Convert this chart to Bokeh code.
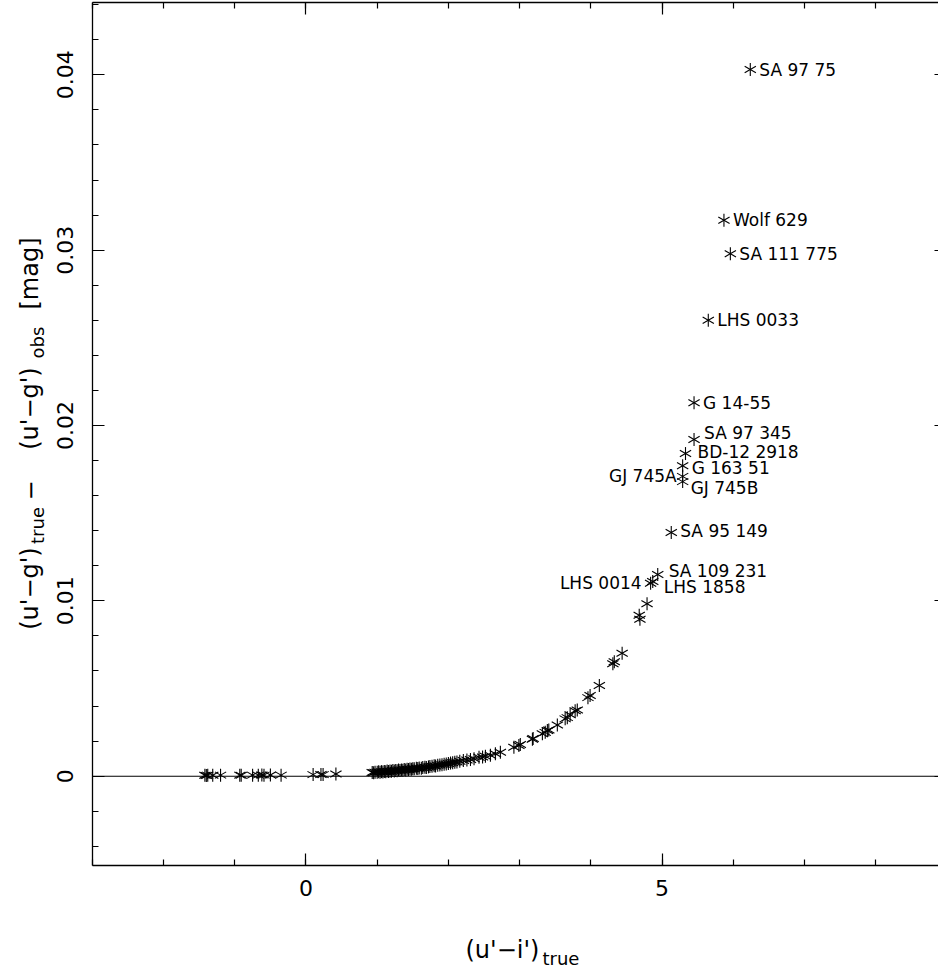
import numpy as np
from bokeh.plotting import figure
from bokeh.models import (Range1d, LinearAxis, Label, ColumnDataSource,
                          FixedTicker)
from bokeh.embed import file_html
from bokeh.resources import INLINE
from bokeh.core.properties import value

# ---------------- data ----------------
# unlabelled stars: (u'-i')_true and (u'-g')_true - (u'-g')_obs [mag]
star_x = [
    -1.42, -1.40, -1.38, -1.31, -1.20, -0.93, -0.91, -0.75, -0.67, -0.62, -0.59,
    -0.50, -0.35, 0.10, 0.21, 0.24, 0.42,
    0.93, 0.95, 0.97, 1.00, 1.02, 1.04, 1.06, 1.08, 1.10, 1.12, 1.14, 1.16,
    1.18, 1.20, 1.22, 1.24, 1.26, 1.28, 1.30, 1.32, 1.34, 1.36, 1.38, 1.40,
    1.42, 1.44, 1.46, 1.48, 1.50, 1.52, 1.55, 1.57, 1.59, 1.62, 1.64, 1.67,
    1.69, 1.72, 1.74, 1.77, 1.80, 1.82, 1.85, 1.88, 1.91, 1.94, 1.97, 2.00,
    2.03, 2.06, 2.09, 2.12, 2.16, 2.21, 2.26, 2.31, 2.36, 2.43, 2.48, 2.52,
    2.59, 2.66, 2.73, 2.92, 2.99, 3.01, 3.18, 3.19, 3.32, 3.36, 3.39, 3.41,
    3.53, 3.64, 3.67, 3.71, 3.78, 3.81, 3.96, 3.99, 4.12, 4.31, 4.33, 4.44,
    4.68, 4.69, 4.79,
]
star_y = [
    0.00005, 0.00004, 0.00006, 0.00005, 0.00006, 0.00006, 0.00005, 0.00006,
    0.00006, 0.00007, 0.00006, 0.00007, 0.00006, 0.00009, 0.00010, 0.00009,
    0.00013,
    0.00021, 0.00020, 0.00023, 0.00022, 0.00025, 0.00022, 0.00026, 0.00024,
    0.00027, 0.00025, 0.00029, 0.00027, 0.00030, 0.00028, 0.00032, 0.00030,
    0.00033, 0.00031, 0.00035, 0.00033, 0.00036, 0.00034, 0.00038, 0.00036,
    0.00040, 0.00038, 0.00041, 0.00040, 0.00043, 0.00042, 0.00045, 0.00044,
    0.00047, 0.00046, 0.00049, 0.00051, 0.00050, 0.00053, 0.00055, 0.00057,
    0.00059, 0.00058, 0.00062, 0.00064, 0.00066, 0.00068, 0.00070, 0.00072,
    0.00075, 0.00077, 0.00080, 0.00081, 0.00085, 0.00090, 0.00092, 0.00095,
    0.00100, 0.00108, 0.00110, 0.00114, 0.00120, 0.00128, 0.00137, 0.00165,
    0.00175, 0.00181, 0.00211, 0.00215, 0.00242, 0.00250, 0.00261, 0.00264,
    0.00292, 0.00327, 0.00334, 0.00350, 0.00373, 0.00378, 0.00448, 0.00460,
    0.00517, 0.00641, 0.00653, 0.00701,
    0.00918, 0.00895, 0.00983,
]

# labelled stars
label_names = ["SA 97 75", "Wolf 629", "SA 111 775", "LHS 0033", "G 14-55",
               "SA 97 345", "BD-12 2918", "G 163 51", "GJ 745A", "GJ 745B",
               "SA 95 149", "SA 109 231", "LHS 0014", "LHS 1858"]
label_x = [6.24, 5.87, 5.96, 5.65, 5.45, 5.45, 5.33, 5.29, 5.29, 5.29,
           5.13, 4.94, 4.84, 4.87]
label_y = [0.0403, 0.0317, 0.0298, 0.0260, 0.0213, 0.0192, 0.0184, 0.0177,
           0.0171, 0.0168, 0.0139, 0.0115, 0.0110, 0.0111]

# label placement (style): side of the star, pixel offsets
label_side = ["r", "r", "r", "r", "r", "r", "r", "r", "l", "r", "r", "r", "l", "r"]
label_dx = [9, 9, 9, 9, 9, 10, 12, 9, -6, 8, 9, 11, -9, 11]
label_dy = [0, 0, 0, 0, 0, 7, 2, -2, 0, -6, 1, 4, 0, -5]

# axes: box limits and ticks
x_lo, x_hi = -3.0, 9.0
y_lo, y_hi = -0.0051, 0.0441
x_major = [0, 5]
x_major_labels = ["0", "5"]
x_minor = list(range(-3, 10))
y_major = [0.0, 0.01, 0.02, 0.03, 0.04]
y_major_labels = ["0", "0.01", "0.02", "0.03", "0.04"]
y_minor = [round(-0.004 + 0.002 * i, 3) for i in range(25)]

# ---------------- figure ----------------
FONT = "DejaVu Sans"
W, H = 938, 969
p = figure(width=W, height=H, output_backend="svg", toolbar_location=None,
           x_range=Range1d(-4.2907, 8.8834), y_range=Range1d(-0.011024, 0.044238),
           min_border_left=0, min_border_right=0, min_border_top=0,
           min_border_bottom=0, background_fill_color="white",
           border_fill_color="white", outline_line_color=None)
p.title.visible = False
p.grid.visible = False
p.xaxis.visible = False
p.yaxis.visible = False


def make_axis(ticks, minor, labels, show_labels, loc, bounds, tin, mtin):
    ax = LinearAxis(fixed_location=loc, bounds=bounds)
    ax.ticker = FixedTicker(ticks=ticks, minor_ticks=minor)
    if show_labels:
        ax.major_label_overrides = {t: l for t, l in zip(ticks, labels)}
        ax.major_label_text_font = FONT
        ax.major_label_text_font_size = "22px"
        ax.major_label_text_color = "black"
    else:
        ax.major_label_overrides = {t: "" for t in ticks}
    ax.axis_line_color = "black"
    ax.axis_line_width = 1.3
    ax.major_tick_in = tin
    ax.major_tick_out = 0
    ax.minor_tick_in = mtin
    ax.minor_tick_out = 0
    ax.major_tick_line_color = "black"
    ax.major_tick_line_width = 1.2
    ax.minor_tick_line_color = "black"
    ax.minor_tick_line_width = 1.2
    return ax


bottom = make_axis(x_major, x_minor, x_major_labels, True, y_lo, (x_lo, x_hi), 12, 6)
bottom.major_label_standoff = 14
p.add_layout(bottom, "below")

top = make_axis(x_major, x_minor, x_major_labels, False, y_hi, (x_lo, x_hi), 12, 6)
p.add_layout(top, "above")

left = make_axis(y_major, y_minor, y_major_labels, True, x_lo, (y_lo, y_hi), 12, 6)
left.major_label_orientation = "vertical"
left.major_label_standoff = 19
p.add_layout(left, "left")

right = make_axis(y_major, y_minor, y_major_labels, False, x_hi, (y_lo, y_hi), 12, 6)
p.add_layout(right, "right")

# zero line across the box
p.segment(x0=[x_lo], y0=[0.0], x1=[x_hi], y1=[0.0], line_color="black",
          line_width=1.1)

# six-armed asterisk markers made of three rotated dashes
all_x = star_x + label_x
all_y = star_y + label_y
src = ColumnDataSource(dict(x=all_x, y=all_y))
for ang in (np.pi / 2, np.pi / 6, -np.pi / 6):
    p.scatter("x", "y", source=src, marker="dash", size=13, angle=ang,
              line_color="black", line_width=1.1)

# star names
for side in ("r", "l"):
    idx = [i for i, s in enumerate(label_side) if s == side]
    s = ColumnDataSource(dict(
        x=[label_x[i] for i in idx], y=[label_y[i] for i in idx],
        t=[label_names[i] for i in idx],
        dx=[label_dx[i] for i in idx], dy=[-label_dy[i] for i in idx]))
    p.text("x", "y", text="t", source=s, x_offset="dx", y_offset="dy",
           text_font=value(FONT), text_font_size="17px",
           text_align="left" if side == "r" else "right",
           text_baseline="middle", text_color="black")


# axis titles (screen coordinates: x from left, y from bottom of canvas)
def lab(text, x, y, size, angle=0.0, align="left", baseline="alphabetic"):
    p.add_layout(Label(x=x, y=y, x_units="screen", y_units="screen",
                       text=text, text_font=FONT, text_font_size=size,
                       text_color="black", angle=angle,
                       text_align=align, text_baseline=baseline))


lab("(u'\u2212i')", 465, 20, "24px")
lab("true", 542, 11, "18px")

# rotated y-axis title, each piece placed by its centre
R = np.pi / 2
for txt, cx, cy_page, size in [("(u'\u2212g')", 29, 588, "24px"),
                              ("true", 37, 525, "18px"),
                              ("\u2212", 29, 490, "24px"),
                              ("(u'\u2212g')", 29, 408, "24px"),
                              ("obs", 37, 342, "18px"),
                              ("[mag]", 29, 273, "24px")]:
    lab(txt, cx, H - cy_page, size, R, "center", "middle")

open("out.html", "w").write(file_html(p, INLINE))
